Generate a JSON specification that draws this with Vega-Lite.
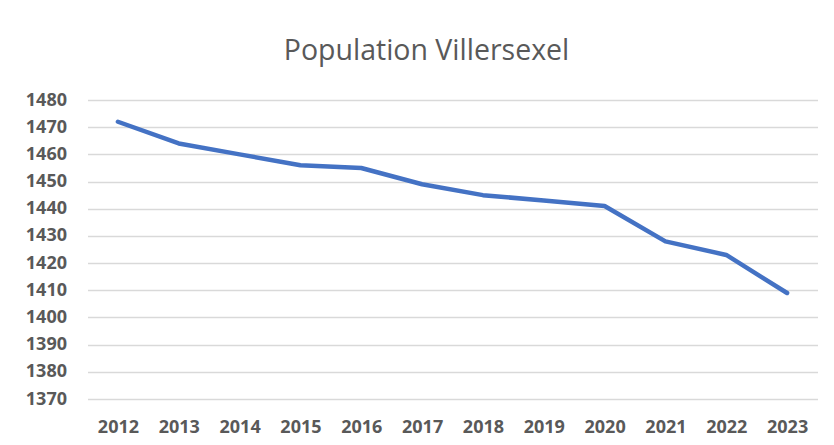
{
  "$schema": "https://vega.github.io/schema/vega-lite/v6.json",
  "autosize": {"type": "none"},
  "width": 730,
  "height": 299,
  "padding": {"left": 87.5, "top": 100, "right": 16.5, "bottom": 46},
  "background": "white",
  "title": {
    "text": "Population Villersexel",
    "font": "Open Sans",
    "fontSize": 28.5,
    "fontWeight": "normal",
    "color": "#595959",
    "anchor": "middle",
    "baseline": "alphabetic",
    "offset": 3,
    "dx": -26
  },
  "data": {
    "values": [
      {"year": "2012", "population": 1472},
      {"year": "2013", "population": 1464},
      {"year": "2014", "population": 1460},
      {"year": "2015", "population": 1456},
      {"year": "2016", "population": 1455},
      {"year": "2017", "population": 1449},
      {"year": "2018", "population": 1445},
      {"year": "2019", "population": 1443},
      {"year": "2020", "population": 1441},
      {"year": "2021", "population": 1428},
      {"year": "2022", "population": 1423},
      {"year": "2023", "population": 1409}
    ]
  },
  "mark": {"type": "line", "color": "#4472C4", "strokeWidth": 4.5, "strokeCap": "round", "strokeJoin": "round"},
  "encoding": {
    "x": {
      "field": "year",
      "type": "ordinal",
      "scale": {"type": "point", "padding": 0.5},
      "axis": {
        "title": null,
        "labelAngle": 0,
        "domain": false,
        "ticks": false,
        "grid": false,
        "labelPadding": 19,
        "labelFont": "Open Sans",
        "labelFontSize": 18,
        "labelFontWeight": "bold",
        "labelColor": "#595959"
      }
    },
    "y": {
      "field": "population",
      "type": "quantitative",
      "scale": {"domain": [1370, 1480], "zero": false, "nice": false},
      "axis": {
        "title": null,
        "format": "d",
        "values": [1370, 1380, 1390, 1400, 1410, 1420, 1430, 1440, 1450, 1460, 1470, 1480],
        "domain": false,
        "ticks": false,
        "grid": true,
        "gridColor": "#D9D9D9",
        "gridWidth": 1.3,
        "labelPadding": 21,
        "labelFont": "Open Sans",
        "labelFontSize": 18,
        "labelFontWeight": "bold",
        "labelColor": "#595959"
      }
    }
  },
  "config": {"view": {"stroke": null}}
}
